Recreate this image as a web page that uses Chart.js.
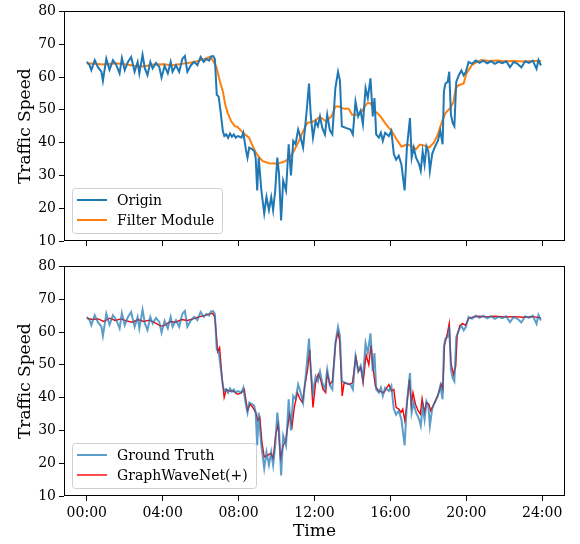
<!DOCTYPE html>
<html>
<head>
<meta charset="utf-8">
<script src="https://cdn.jsdelivr.net/npm/chart.js@4.4.1/dist/chart.umd.min.js"></script>
<style>
  html, body { margin: 0; padding: 0; background: #fff; }
  #wrap { position: relative; width: 580px; height: 544px; }
  #chartTop { position: absolute; left: 0; top: 0; }
  #chartBottom { position: absolute; left: 0; top: 255px; }
</style>
</head>
<body>
<div id="wrap">
  <canvas id="chartTop" width="580" height="255"></canvas>
  <canvas id="chartBottom" width="580" height="289"></canvas>
</div>
<script>
// time of day in hours, speed values
const originHours = [
  0.0, 0.15, 0.24, 0.42, 0.59, 0.77, 0.85, 1.03, 1.2, 1.38, 1.56, 1.73, 1.85, 2.0, 2.17, 2.34,
  2.52, 2.68, 2.77, 2.94, 3.06, 3.2, 3.35, 3.47, 3.65, 3.82, 3.94, 4.1, 4.27, 4.42, 4.52, 4.7,
  4.87, 5.04, 5.17, 5.3, 5.49, 5.66, 5.83, 6.0, 6.16, 6.3, 6.45, 6.55, 6.66, 6.75, 6.85, 6.95,
  7.05, 7.17, 7.25, 7.35, 7.45, 7.55, 7.65, 7.75, 7.85, 7.95, 8.05, 8.15, 8.25, 8.38, 8.47, 8.56,
  8.7, 8.82, 8.9, 8.98, 9.06, 9.2, 9.35, 9.47, 9.6, 9.72, 9.82, 9.93, 10.04, 10.13, 10.24, 10.35,
  10.5, 10.64, 10.76, 10.88, 11.0, 11.14, 11.27, 11.4, 11.5, 11.57, 11.71, 11.8, 11.92, 12.06, 12.18, 12.29,
  12.41, 12.55, 12.67, 12.81, 12.94, 13.1, 13.24, 13.34, 13.44, 13.65, 13.9, 14.02, 14.16, 14.3, 14.43, 14.55,
  14.69, 14.81, 14.95, 15.07, 15.16, 15.25, 15.39, 15.5, 15.6, 15.72, 15.92, 16.05, 16.18, 16.3, 16.44, 16.58,
  16.75, 16.87, 17.03, 17.12, 17.23, 17.35, 17.5, 17.6, 17.7, 17.8, 17.9, 18.0, 18.08, 18.2, 18.33, 18.5,
  18.63, 18.75, 18.82, 18.9, 19.02, 19.1, 19.19, 19.28, 19.37, 19.47, 19.6, 19.74, 19.86, 19.98, 20.12, 20.3,
  20.5, 20.7, 20.9, 21.1, 21.3, 21.5, 21.7, 21.9, 22.1, 22.3, 22.5, 22.7, 22.9, 23.1, 23.3, 23.5,
  23.7, 23.8, 23.93
];
const originSpeed = [
  64.6, 63.6, 62.1, 65.1, 63.0, 61.6, 58.8, 65.6, 62.2, 65.1, 63.6, 61.1, 65.8, 62.1, 64.6, 66.1,
  61.6, 64.6, 61.1, 66.8, 62.6, 60.6, 64.6, 62.6, 64.3, 63.1, 59.8, 63.4, 61.1, 64.6, 61.6, 63.6,
  61.6, 65.6, 66.4, 61.6, 63.6, 64.6, 63.6, 66.1, 64.6, 65.5, 65.0, 66.3, 66.4, 65.5, 54.6, 54.0,
  49.5, 43.5, 42.0, 42.5, 41.5, 42.8, 41.8, 42.5, 41.5, 42.0, 41.8, 41.5, 43.0, 38.0, 35.4, 38.5,
  38.0, 37.5, 35.4, 25.4, 35.4, 25.4, 18.4, 23.4, 19.4, 23.4, 19.4, 25.4, 35.4, 30.5, 16.3, 28.4,
  25.4, 39.5, 30.0, 40.5, 39.5, 44.0, 41.5, 38.5, 44.5, 48.5, 58.0, 48.5, 41.5, 46.5, 45.0, 48.0,
  44.5, 42.5, 48.5, 43.7, 42.5, 56.6, 61.6, 59.0, 45.0, 44.5, 44.0, 42.5, 52.5, 48.0, 49.7, 45.6,
  56.6, 53.6, 59.6, 48.0, 53.6, 42.5, 41.5, 43.0, 40.5, 43.0, 42.0, 43.6, 36.5, 34.8, 36.0, 33.3,
  25.4, 38.5, 47.5, 35.4, 38.5, 35.4, 33.6, 31.4, 37.3, 33.3, 38.8, 37.3, 31.4, 36.5, 38.5, 40.5,
  43.6, 39.5, 55.6, 58.0, 58.5, 61.6, 48.5, 46.0, 45.0, 58.5, 60.5, 62.0, 60.5, 61.6, 64.6, 64.0,
  65.0, 64.3, 65.0, 64.2, 64.8, 64.0, 64.6, 64.2, 64.8, 63.0, 64.6, 64.0, 62.9, 64.8, 64.3, 65.0,
  62.5, 65.2, 63.5
];

const filterHours = [
  0.0, 0.5, 1.0, 1.5, 2.0, 2.5, 3.0, 3.5, 4.0, 4.5, 5.0, 5.5, 5.8, 6.1, 6.35, 6.48,
  6.6, 6.83, 7.0, 7.17, 7.3, 7.43, 7.61, 7.8, 7.94, 8.2, 8.4, 8.55, 8.7, 8.9, 9.05, 9.25,
  9.6, 9.9, 10.13, 10.3, 10.48, 10.74, 10.92, 11.05, 11.18, 11.32, 11.45, 11.62, 11.8, 11.97, 12.1, 12.24,
  12.4, 12.59, 12.75, 12.9, 13.0, 13.1, 13.3, 13.45, 13.56, 13.8, 13.98, 14.25, 14.52, 14.65, 14.78, 14.95,
  15.08, 15.21, 15.39, 15.48, 15.74, 15.92, 16.0, 16.18, 16.27, 16.44, 16.58, 16.88, 17.1, 17.35, 17.55, 17.85,
  18.05, 18.29, 18.5, 18.72, 18.9, 19.16, 19.33, 19.44, 19.6, 19.86, 20.0, 20.3, 20.6, 20.8, 21.2, 21.6,
  22.0, 22.5, 23.0, 23.5, 23.93
];
const filterSpeed = [
  64.2, 64.0, 63.8, 64.2, 63.9, 63.4, 63.2, 63.8, 63.9, 63.6, 64.0, 64.4, 64.8, 65.3, 65.8, 66.1,
  65.5, 63.1, 59.0, 55.6, 51.5, 49.0, 46.5, 45.0, 44.8, 43.2, 42.2, 41.5, 39.5, 37.0, 35.8, 34.4,
  33.7, 33.6, 33.7, 34.0, 34.4, 35.7, 37.5, 39.0, 40.5, 42.5, 44.0, 46.0, 46.3, 46.5, 47.0, 47.7,
  47.4, 46.5, 47.3, 48.0, 49.5, 51.0, 51.0, 50.6, 50.3, 50.3, 48.5, 48.5, 49.7, 51.0, 52.0, 52.0,
  50.8, 49.5, 48.5, 48.0, 45.8, 44.5, 44.0, 42.5, 41.5, 40.0, 38.8, 39.4, 39.0, 38.0, 39.4, 39.0,
  38.5, 40.0, 42.5, 46.5, 49.0, 50.6, 52.5, 56.6, 57.5, 58.0, 61.0, 63.7, 64.7, 65.2, 64.9, 65.0,
  64.8, 64.9, 64.7, 64.9, 64.9
];

const predHours = [
  0.0, 0.3, 0.6, 0.9, 1.2, 1.5, 1.8, 2.1, 2.4, 2.7, 3.0, 3.3, 3.6, 3.9, 4.1, 4.4,
  4.7, 5.0, 5.3, 5.6, 5.9, 6.2, 6.5, 6.63, 6.75, 6.9, 7.0, 7.12, 7.24, 7.35, 7.5, 7.7,
  7.95, 8.15, 8.3, 8.47, 8.6, 8.75, 8.9, 9.02, 9.12, 9.23, 9.35, 9.52, 9.7, 9.82, 9.96, 10.08,
  10.21, 10.35, 10.48, 10.68, 10.82, 10.94, 11.1, 11.24, 11.36, 11.5, 11.62, 11.75, 11.85, 11.92, 12.06, 12.2,
  12.32, 12.45, 12.59, 12.67, 12.81, 12.94, 13.12, 13.24, 13.33, 13.46, 13.56, 13.82, 14.0, 14.18, 14.32, 14.44,
  14.56, 14.72, 14.86, 14.98, 15.08, 15.21, 15.39, 15.65, 15.92, 16.05, 16.18, 16.3, 16.44, 16.56, 16.65, 16.76,
  16.88, 17.0, 17.1, 17.19, 17.32, 17.46, 17.58, 17.67, 17.8, 17.9, 18.03, 18.12, 18.2, 18.38, 18.55, 18.68,
  18.76, 18.85, 18.98, 19.1, 19.19, 19.33, 19.44, 19.52, 19.66, 19.81, 19.95, 20.12, 20.38, 20.7, 21.0, 21.5,
  22.0, 22.5, 23.0, 23.5, 23.93
];
const predSpeed = [
  64.2, 63.8, 64.0, 63.2, 64.2, 63.5, 64.0, 63.4, 63.0, 63.8, 63.2, 63.6, 62.8, 61.8, 62.0, 63.2,
  63.0, 63.8, 63.5, 64.0, 64.6, 65.0, 65.6, 65.7, 64.5, 54.0, 55.2, 46.5, 40.0, 42.5, 42.0, 42.0,
  41.0, 41.5, 42.5, 36.0, 38.0, 37.0, 35.5, 33.0, 34.0, 26.4, 21.9, 22.4, 23.0, 21.4, 28.9, 32.0,
  21.4, 25.4, 26.6, 35.0, 31.3, 37.2, 41.5, 39.5, 38.5, 44.0, 48.0, 54.6, 43.5, 37.0, 44.5, 47.2,
  45.6, 42.5, 41.5, 47.5, 44.0, 45.0, 57.0, 60.0, 57.0, 40.5, 44.5, 44.0, 44.5, 52.5, 48.0, 49.2,
  44.5, 53.0, 50.0, 56.0, 49.2, 43.5, 42.0, 41.5, 44.0, 42.0, 42.5, 37.0, 36.5, 35.5, 36.5, 33.0,
  38.5, 45.5, 37.5, 41.5, 38.0, 36.0, 35.0, 39.7, 35.5, 38.5, 38.0, 36.0, 37.0, 39.0, 41.5, 44.0,
  42.5, 56.0, 59.0, 62.6, 50.5, 47.0, 49.5, 59.0, 62.0, 62.6, 62.0, 64.1, 64.6, 64.8, 64.6, 64.8,
  64.6, 64.7, 64.5, 64.7, 64.3
];

const tickHours = [0, 4, 8, 12, 16, 20, 24];
const tickLabels = ['00:00', '04:00', '08:00', '12:00', '16:00', '20:00', '24:00'];

const SERIF = "'DejaVu Serif', serif";
Chart.defaults.color = '#000';
Chart.defaults.font.family = SERIF;

function pairs(xs, ys) {
    return xs.map((x, i) => ({ x: x, y: ys[i] }));
}

// frame + legend box in the lower left, drawn like matplotlib
const framePlugin = {
    id: 'frameLegend',
    afterDraw(chart, args, opts) {
        const ctx = chart.ctx;
        const a = chart.chartArea;
        ctx.save();
        ctx.strokeStyle = '#000';
        ctx.lineWidth = 1;
        ctx.strokeRect(Math.round(a.left) + 0.5, Math.round(a.top) + 0.5,
            Math.round(a.right - a.left) - 1, Math.round(a.bottom - a.top) - 1);

        const b = opts.box;
        ctx.beginPath();
        ctx.roundRect(b.x + 0.5, b.y + 0.5, b.w, b.h, 3);
        ctx.fillStyle = 'rgba(255,255,255,0.8)';
        ctx.fill();
        ctx.strokeStyle = '#d0d0d0';
        ctx.stroke();

        ctx.font = '14px ' + SERIF;
        ctx.textBaseline = 'middle';
        ctx.textAlign = 'left';
        chart.data.datasets.forEach((ds, i) => {
            const y = b.y + 12 + i * 20;
            ctx.beginPath();
            ctx.moveTo(b.x + 5, y);
            ctx.lineTo(b.x + 35, y);
            ctx.strokeStyle = ds.borderColor;
            ctx.lineWidth = ds.borderWidth;
            ctx.stroke();
            ctx.fillStyle = '#000';
            ctx.fillText(ds.label, b.x + 45, y + 1);
        });
        ctx.restore();
    }
};

function makeOptions(bottomAxis, legendBox) {
    return {
        responsive: false,
        animation: false,
        layout: { padding: { left: 0, right: 15, top: 9, bottom: 0 } },
        elements: { point: { radius: 0 }, line: { tension: 0 } },
        plugins: {
            legend: { display: false },
            tooltip: { enabled: false },
            frameLegend: { box: legendBox },
        },
        scales: {
            x: {
                type: 'linear',
                min: -1.2,
                max: 25.2,
                afterBuildTicks: (s) => { s.ticks = tickHours.map(v => ({ value: v })); },
                afterFit: (s) => { s.height = bottomAxis ? 48 : 14; },
                ticks: {
                    padding: 4,
                    font: { size: 14, family: SERIF },
                    callback: (v) => bottomAxis ? tickLabels[tickHours.indexOf(v)] : '',
                },
                grid: { drawOnChartArea: false, drawTicks: true, tickLength: 5, color: '#000', lineWidth: 1 },
                border: { display: false },
                title: {
                    display: bottomAxis,
                    text: 'Time',
                    font: { size: 17, family: SERIF },
                    padding: { top: 0, bottom: 2 },
                },
            },
            y: {
                min: 10,
                max: 80,
                afterFit: (s) => { s.width = 64; },
                ticks: { stepSize: 10, padding: 3, font: { size: 14, family: SERIF } },
                grid: { drawOnChartArea: false, drawTicks: true, tickLength: 5, color: '#000', lineWidth: 1 },
                border: { display: false },
                title: {
                    display: true,
                    text: 'Traffic Speed',
                    font: { size: 17, family: SERIF },
                    padding: { top: 15, bottom: 0 },
                },
            },
        },
    };
}

new Chart(document.getElementById('chartTop').getContext('2d'), {
    type: 'line',
    data: {
        datasets: [{
            label: 'Origin',
            data: pairs(originHours, originSpeed),
            borderColor: '#1f77b4',
            borderWidth: 2,
        }, {
            label: 'Filter Module',
            data: pairs(filterHours, filterSpeed),
            borderColor: '#ff7f0e',
            borderWidth: 2,
        }],
    },
    options: makeOptions(false, { x: 72, y: 188, w: 150, h: 45 }),
    plugins: [framePlugin],
});

new Chart(document.getElementById('chartBottom').getContext('2d'), {
    type: 'line',
    data: {
        datasets: [{
            label: 'Ground Truth',
            data: pairs(originHours, originSpeed),
            borderColor: 'rgba(31,119,180,0.72)',
            borderWidth: 2,
        }, {
            label: 'GraphWaveNet(+)',
            data: pairs(predHours, predSpeed),
            borderColor: '#ff0000',
            borderWidth: 1.4,
        }],
    },
    options: makeOptions(true, { x: 72, y: 188, w: 184, h: 45 }),
    plugins: [framePlugin],
});
</script>
</body>
</html>
